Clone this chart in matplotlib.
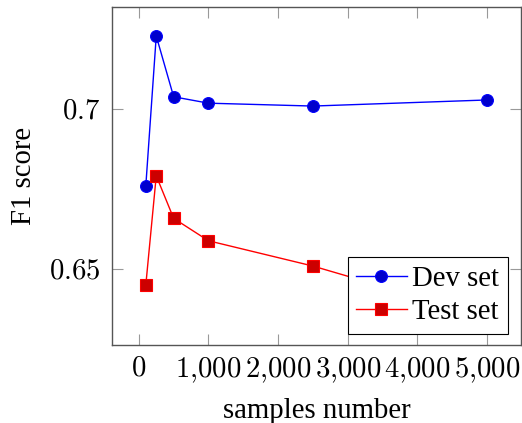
import matplotlib
matplotlib.use("Agg")
import matplotlib.pyplot as plt
from matplotlib.ticker import FuncFormatter

# values
samples = [100, 250, 500, 1000, 2500, 5000]
dev_f1 = [0.676, 0.7228, 0.7038, 0.7018, 0.7009, 0.7028]
test_f1 = [0.645, 0.6791, 0.6658, 0.6588, 0.6509, 0.635]
x_ticks = [0, 1000, 2000, 3000, 4000, 5000]
y_ticks = [0.65, 0.7]

plt.rcParams["mathtext.fontset"] = "cm"
plt.rcParams["font.family"] = ["Liberation Serif", "DejaVu Serif"]
fs = 20.7

fig = plt.figure(figsize=(5.22, 4.23), dpi=100)
ax = fig.add_axes([0.214, 0.185, 0.784, 0.798])

ax.plot(samples, dev_f1, color="blue", lw=1, marker="o", ms=8.5,
        mfc=(0, 0, 0.8), mec="blue", mew=0.8, label="Dev set")
ax.plot(samples, test_f1, color="red", lw=1, marker="s", ms=8,
        mfc=(0.8, 0, 0), mec="red", mew=0.8, label="Test set")

ax.set_xlim(-390, 5490)
ax.set_ylim(0.6263, 0.7318)
ax.set_xticks(x_ticks)
ax.set_yticks(y_ticks)
ax.xaxis.set_major_formatter(FuncFormatter(
    lambda v, p: "$" + f"{int(v):,}".replace(",", "{,}") + "$"))
ax.yaxis.set_major_formatter(FuncFormatter(lambda v, p: f"${v:g}$"))

ax.tick_params(direction="in", length=8, width=0.8, color="#999999",
               top=True, right=True, labelsize=fs, pad=8)
for s in ax.spines.values():
    s.set_color("#555555")
    s.set_linewidth(1)

ax.set_xlabel("samples number", fontsize=fs, labelpad=9)
ax.set_ylabel("F1 score", fontsize=fs, labelpad=9)

leg = ax.legend(loc="lower right", fontsize=fs, fancybox=False,
                edgecolor="black", framealpha=1, borderaxespad=0,
                bbox_to_anchor=(508 / 522, 89 / 423),
                bbox_transform=fig.transFigure,
                handlelength=1.75, handletextpad=0.2, borderpad=0.3,
                labelspacing=0.25)
leg.get_frame().set_linewidth(0.8)

fig.savefig("out.png", dpi=100)
